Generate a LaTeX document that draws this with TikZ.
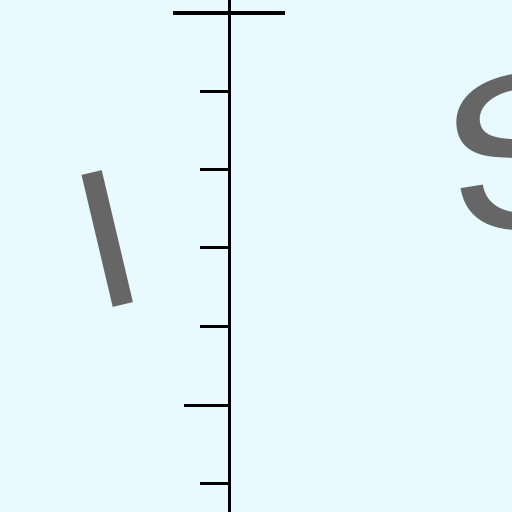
\documentclass[tikz,border=0pt]{standalone}
\usepackage{fontspec}
\setmainfont{TeX Gyre Heros}
\definecolor{bg}{RGB}{232,250,255}
\definecolor{glyph}{RGB}{102,102,102}
\begin{document}
\begin{tikzpicture}[x=1pt,y=-1pt,
  axis/.style={line width=3pt,black},
  crossbar/.style={line width=3.5pt,black},
  tickmark/.style={line width=3pt,black},
  letter/.style={inner sep=0pt,outer sep=0pt,text=glyph}]
\fill[bg] (0,0) rectangle (512,512);
\useasboundingbox (0,0) rectangle (512,512);
\clip (0,0) rectangle (512,512);
\coordinate (top) at (229,0);
\coordinate (bot) at (229,512);
\draw[axis] (top) -- (bot);
\coordinate (cl) at (173,13);
\coordinate (cr) at (285,13);
\draw[crossbar] (cl) -- (cr);
\foreach \y/\x in {91/200,169/200,247/200,326/200,405/184,483/200}{
  \coordinate (t\y) at (\x,\y);
  \coordinate (a\y) at (229,\y);
  \draw[tickmark] (t\y) -- (a\y);
}
\node[letter,rotate=13.3,xscale=1.2,font=\fontsize{186}{186}\selectfont] (letterI) at (106.4,239.8) {I};
\node[letter,anchor=base west,rotate=9,xscale=1.25,font=\fontsize{205}{205}\selectfont] (letterS) at (456.0,238.8) {S};
\end{tikzpicture}
\end{document}
